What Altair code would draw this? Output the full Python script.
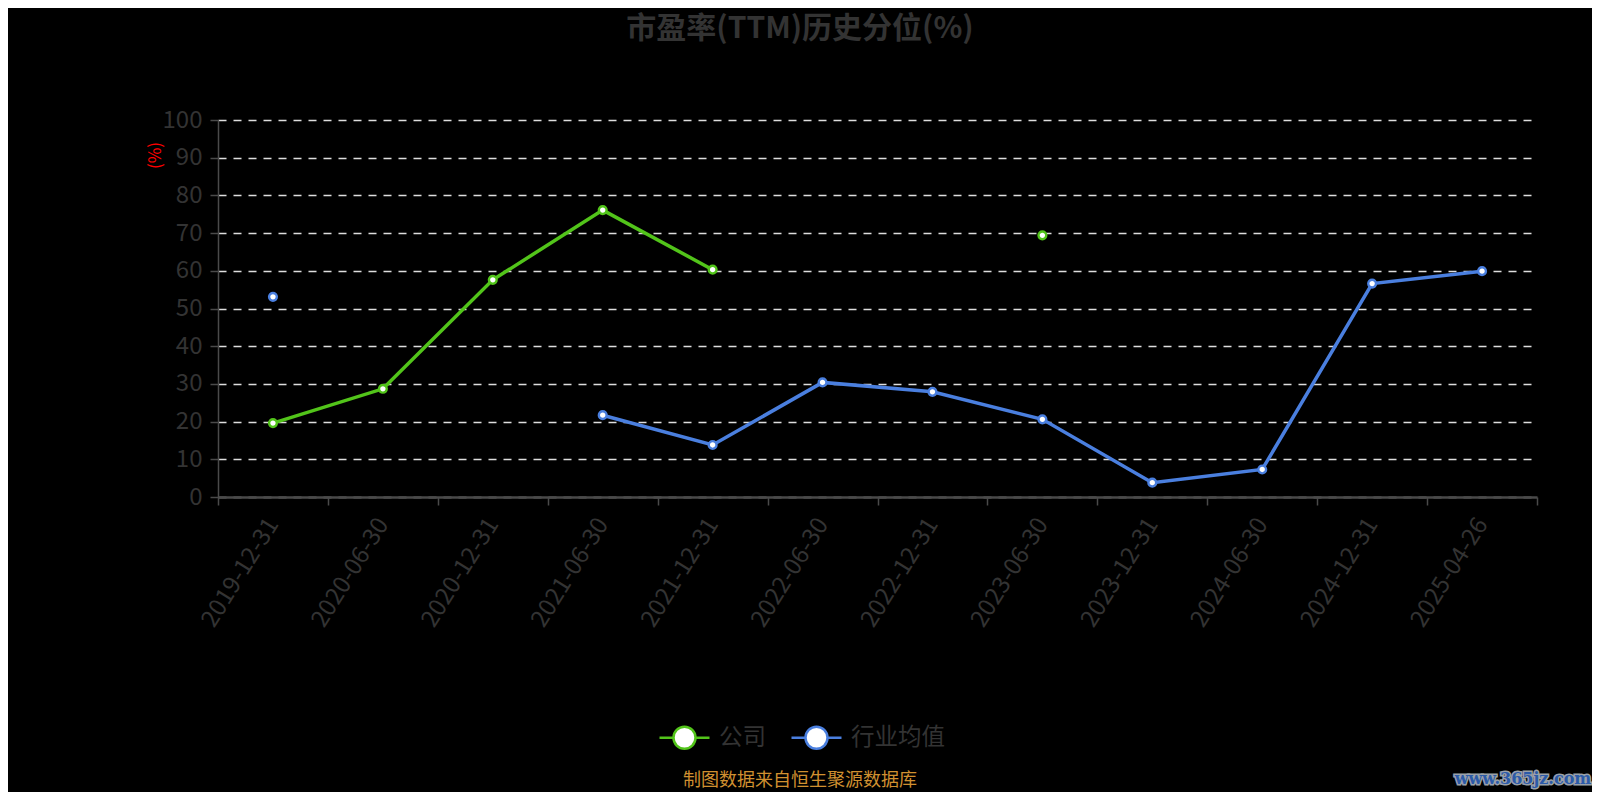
import altair as alt
import pandas as pd

dates = ["2019-12-31", "2020-06-30", "2020-12-31", "2021-06-30", "2021-12-31", "2022-06-30",
         "2022-12-31", "2023-06-30", "2023-12-31", "2024-06-30", "2024-12-31", "2025-04-26"]
company = [19.6, 28.7, 57.6, 76.1, 60.3, None, None, 69.4, None, None, None, None]
industry = [53.1, None, None, 21.7, 13.8, 30.4, 27.9, 20.6, 3.8, 7.3, 56.6, 59.9]
series_names = ["公司", "行业均值"]
series_colors = ["#52c41a", "#4a7fdf"]
y_ticks = [0, 10, 20, 30, 40, 50, 60, 70, 80, 90, 100]

title_text = "市盈率(TTM)历史分位(%)"
footer_text = "制图数据来自恒生聚源数据库"
watermark_text = "www.365jz.com"

rows = []
for name, vals in zip(series_names, [company, industry]):
    seg = 0
    for d, v in zip(dates, vals):
        if v is None:
            seg += 1
            continue
        rows.append({"date": d, "series": name, "value": v, "seg": f"{name}-{seg}"})
df = pd.DataFrame(rows)

FONT = "Noto Sans CJK SC"
W, H = 1319, 377

legend_path = ("M-1,0L-0.44,0M0.44,0L1,0M-0.44,0A0.44,0.44,0,1,1,0.44,0"
               "A0.44,0.44,0,1,1,-0.44,0Z")

x_enc = alt.X("date:N", sort=dates, scale=alt.Scale(domain=dates, paddingInner=0, paddingOuter=0),
              axis=alt.Axis(title=None, labelAngle=-58, labelFontSize=24, labelColor="#333333",
                            labelFont=FONT, tickBand="extent", tickSize=8, tickColor="#4a4a4a",
                            tickWidth=1.5, domainColor="#4a4a4a", domainWidth=2.5,
                            labelPadding=15, grid=False, zindex=1, labelOverlap=False))
y_enc = alt.Y("value:Q", scale=alt.Scale(domain=[0, 100], nice=False),
              axis=alt.Axis(title="(%)", titleColor="red", titleFontSize=17, titleFont=FONT,
                            titleFontWeight="normal", titleAngle=270, titleX=-63, titleY=35,
                            titleAlign="center", titleBaseline="middle",
                            values=y_ticks, labelFontSize=24, labelOverlap=False,
                            labelColor="#333333", labelFont=FONT, tickSize=8,
                            tickColor="#4a4a4a", tickWidth=1.5, domainColor="#4a4a4a",
                            domainWidth=1.5, labelPadding=8, grid=True, gridColor="#dddddd",
                            gridDash=[8, 7], gridWidth=1.5))

lines = alt.Chart(df).mark_line(strokeWidth=3.5).encode(
    x=x_enc, y=y_enc,
    color=alt.Color("series:N", scale=alt.Scale(domain=series_names, range=series_colors),
                    legend=alt.Legend(title=None, orient="none", legendX=440, legendY=591,
                                      direction="horizontal", symbolType=legend_path,
                                      symbolSize=2500, symbolStrokeWidth=2.5,
                                      symbolFillColor="white", labelFontSize=23.5,
                                      labelColor="#333333", labelFont=FONT, labelOffset=8,
                                      columnPadding=20, padding=0)),
    detail="seg:N",
)

points = alt.Chart(df).mark_point(filled=True, fill="white", size=60, strokeWidth=2.4,
                                  opacity=1).encode(
    x=x_enc,
    y=y_enc,
    stroke=alt.Stroke("series:N", scale=alt.Scale(domain=series_names, range=series_colors),
                      legend=None),
)

title = alt.Chart(pd.DataFrame({"t": [title_text]})).mark_text(
    fontSize=30, fontWeight="bold", color="#333333", font=FONT, align="center",
    baseline="middle").encode(x=alt.value(582), y=alt.value(-91), text="t:N")

footer = alt.Chart(pd.DataFrame({"t": [footer_text]})).mark_text(
    fontSize=18, color="#d09030", font=FONT, align="center", baseline="middle").encode(
    x=alt.value(582), y=alt.value(661), text="t:N")

wm_back = alt.Chart(pd.DataFrame({"t": [watermark_text]})).mark_text(
    fontSize=16, fontWeight="bold", font="DejaVu Serif", color="#9aa0a8", stroke="#9aa0a8",
    strokeWidth=3, align="center", baseline="middle").encode(
    x=alt.value(1305), y=alt.value(659), text="t:N")
wm_front = alt.Chart(pd.DataFrame({"t": [watermark_text]})).mark_text(
    fontSize=16, fontWeight="bold", font="DejaVu Serif", color="#2b5aa8", align="center",
    baseline="middle").encode(
    x=alt.value(1305), y=alt.value(659), text="t:N")

chart = alt.layer(lines, points, title, footer, wm_back, wm_front).properties(
    width=W, height=H, background="black",
    autosize=alt.AutoSizeParams(type="none"),
    padding={"left": 210, "top": 112, "right": 55, "bottom": 295},
).configure_view(stroke=None)

chart.save("out.html", embed_options={"renderer": "svg", "actions": False})
